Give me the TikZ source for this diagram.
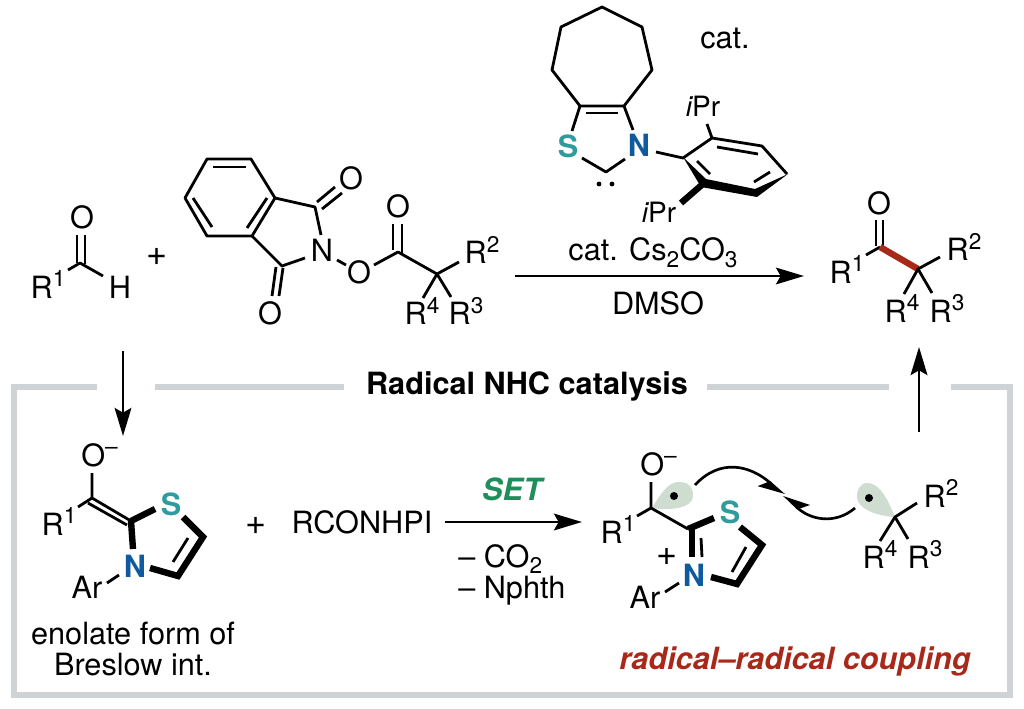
\documentclass[tikz,border=0pt]{standalone}
\usepackage{fontspec}
\setmainfont{TeX Gyre Heros}
\usepackage{tikz}
\usetikzlibrary{arrows.meta}
\definecolor{framegray}{HTML}{CFD3D6}
\definecolor{lobegreen}{HTML}{CEDDD0}
\definecolor{sulfur}{HTML}{2E9C9C}
\definecolor{nitrogen}{HTML}{0F5A9E}
\definecolor{setgreen}{HTML}{1E8F5B}
\definecolor{bondred}{HTML}{A8281A}
\newcommand{\supr}[1]{\raisebox{.36em}{\fontsize{17}{17}\selectfont #1}}
\newcommand{\subr}[1]{\smash{\raisebox{-.22em}{\fontsize{17}{17}\selectfont #1}}}
\tikzstyle{txt} = [anchor=base, inner sep=0pt, font=\fontsize{23}{27}\selectfont]
\tikzstyle{atomS} = [txt, text=sulfur, font=\fontsize{23}{27}\selectfont\bfseries]
\tikzstyle{atomN} = [txt, text=nitrogen, font=\fontsize{23}{27}\selectfont\bfseries]
\tikzstyle{plus} = [txt, font=\fontsize{27}{27}\selectfont]
\tikzstyle{bond} = [line width=2.1pt, line cap=butt, line join=round]
\tikzstyle{bold} = [line width=4.8pt, line join=miter]
\tikzstyle{redbond} = [line width=4.8pt, draw=bondred]
\tikzstyle{frame} = [line width=5pt, draw=framegray, line join=miter]
\tikzstyle{arrow} = [line width=2pt, -{Stealth[length=21pt, width=12.5pt, inset=3.5pt]}]
\tikzstyle{fishhook} = [line width=2pt, -{Stealth[length=17pt, width=16pt, inset=4pt, harpoon, swap]}]
\begin{document}
\begin{tikzpicture}[x=.75pt, y=-.75pt]

    \useasboundingbox (0, 0) rectangle (1024, 709);

    % grey frame
    \draw [frame] (97, 387) -- (14, 387) -- (14, 695) -- (1010, 695) -- (1010, 387) -- (951, 387);
    \draw [frame] (155, 387) -- (344, 387);
    \draw [frame] (707, 387) -- (889, 387);
    \node (title) [txt, font=\fontsize{23}{27}\selectfont\bfseries] at (527, 394) {Radical NHC catalysis};

    % aldehyde
    \coordinate (aldC) at (80, 263);
    \coordinate (aldOa) at (77, 235);
    \coordinate (aldCa) at (77, 263);
    \coordinate (aldOb) at (85, 235);
    \coordinate (aldCb) at (85, 264);
    \coordinate (aldRend) at (68, 270);
    \coordinate (aldHend) at (103, 276);
    \node (aldO) [txt] at (82, 229) {O};
    \node (aldR) [txt] at (48, 298) {R\supr{1}};
    \node (aldH) [txt] at (120, 298) {H};
    \draw [bond] (aldOa) -- (aldCa);
    \draw [bond] (aldOb) -- (aldCb);
    \draw [bond] (aldRend) -- (aldC) -- (aldHend);
    \node (plusA) [plus] at (157, 266) {+};

    % phthalimide ester
    \coordinate (bzA) at (207, 159);
    \coordinate (bzB) at (251, 159);
    \coordinate (bzC) at (275, 198);
    \coordinate (bzD) at (252, 236);
    \coordinate (bzE) at (207, 236);
    \coordinate (bzF) at (185, 198);
    \coordinate (dblAa) at (213, 167);
    \coordinate (dblAb) at (246, 167);
    \coordinate (dblBa) at (267, 198);
    \coordinate (dblBb) at (247, 228);
    \coordinate (dblCa) at (193, 198);
    \coordinate (dblCb) at (212, 227);
    \coordinate (imC) at (315, 207);
    \coordinate (imD) at (282, 266);
    \coordinate (imN) at (321, 235);
    \coordinate (imM) at (305, 258);
    \coordinate (oneA) at (317, 202);
    \coordinate (oneB) at (335, 187);
    \coordinate (twoA) at (322, 209);
    \coordinate (twoB) at (342, 193);
    \coordinate (thrA) at (272, 296);
    \coordinate (thrB) at (276, 267);
    \coordinate (fouA) at (279, 296);
    \coordinate (fouB) at (283, 268);
    \coordinate (noA) at (337, 260);
    \coordinate (noB) at (346, 265);
    \coordinate (oxA) at (374, 265);
    \coordinate (estC) at (398, 252);
    \coordinate (estA) at (393, 224);
    \coordinate (estB) at (393, 250);
    \coordinate (estD) at (402, 224);
    \coordinate (estE) at (402, 253);
    \coordinate (estQ) at (437, 274);
    \coordinate (estTwo) at (459, 262);
    \coordinate (estFour) at (423, 298);
    \coordinate (estThree) at (451, 297);
    \node (imO) [txt] at (351, 190) {O};
    \node (imP) [txt] at (270, 324) {O};
    \node (imNn) [txt] at (322, 262) {N};
    \node (estOa) [txt] at (359, 284) {O};
    \node (estOb) [txt] at (398, 218) {O};
    \node (estR) [txt] at (482, 264) {R\supr{2}};
    \node (estRf) [txt] at (422, 325) {R\supr{4}};
    \node (estRt) [txt] at (466, 325) {R\supr{3}};
    \draw [bond] (bzA) -- (bzB) -- (bzC) -- (bzD) -- (bzE) -- (bzF) -- cycle;
    \draw [bond] (dblAa) -- (dblAb);
    \draw [bond] (dblBa) -- (dblBb);
    \draw [bond] (dblCa) -- (dblCb);
    \draw [bond] (bzC) -- (imC) -- (imN);
    \draw [bond] (bzD) -- (imD) -- (imM);
    \draw [bond] (oneA) -- (oneB);
    \draw [bond] (twoA) -- (twoB);
    \draw [bond] (thrA) -- (thrB);
    \draw [bond] (fouA) -- (fouB);
    \draw [bond] (noA) -- (noB);
    \draw [bond] (oxA) -- (estC) -- (estQ) -- (estTwo);
    \draw [bond] (estA) -- (estB);
    \draw [bond] (estD) -- (estE);
    \draw [bond] (estFour) -- (estQ) -- (estThree);

    % catalyst
    \coordinate (hpA) at (580, 106);
    \coordinate (hpB) at (552, 70);
    \coordinate (hpC) at (561, 27);
    \coordinate (hpD) at (602, 7);
    \coordinate (hpE) at (642, 27);
    \coordinate (hpF) at (652, 70);
    \coordinate (hpG) at (624, 106);
    \coordinate (hpDa) at (586, 113);
    \coordinate (hpDb) at (618, 113);
    \coordinate (catS) at (572, 131);
    \coordinate (catN) at (633, 130);
    \coordinate (carbA) at (582, 158);
    \coordinate (carbC) at (606, 172);
    \coordinate (carbB) at (625, 159);
    \coordinate (nAr) at (656, 152);
    \coordinate (arA) at (683, 158);
    \coordinate (arB) at (712, 138);
    \coordinate (arC) at (762, 146);
    \coordinate (arD) at (787, 174);
    \coordinate (arE) at (756, 193);
    \coordinate (arF) at (704, 183);
    \coordinate (arDa) at (717, 147);
    \coordinate (arDb) at (758, 154);
    \coordinate (arDc) at (754, 182);
    \coordinate (arDd) at (770, 172);
    \coordinate (arDe) at (697, 161);
    \coordinate (arDf) at (710, 174);
    \coordinate (prTop) at (707, 124);
    \coordinate (prBot) at (681, 203);
    \node (catSs) [atomS] at (568, 158) {S};
    \node (catNn) [atomN] at (639, 157) {N};
    \node (catLbl) [txt] at (725, 49) {cat.};
    \node (iprA) [txt, font=\fontsize{21}{25}\selectfont] at (703, 117) {{\itshape i}Pr};
    \node (iprB) [txt, font=\fontsize{21}{25}\selectfont] at (659, 223) {{\itshape i}Pr};
    \draw [bond] (hpA) -- (hpB) -- (hpC) -- (hpD) -- (hpE) -- (hpF) -- (hpG) -- cycle;
    \draw [bond] (hpDa) -- (hpDb);
    \draw [bond] (hpA) -- (catS);
    \draw [bond] (hpG) -- (catN);
    \draw [bond] (carbA) -- (carbC) -- (carbB);
    \draw [bond] (nAr) -- (arA) -- (arB) -- (arC) -- (arD);
    \draw [bond] (arDa) -- (arDb);
    \draw [bond] (arDc) -- (arDd);
    \draw [bond] (arDe) -- (arDf);
    \draw [bond] (prTop) -- (arB);
    \fill (683, 157) -- (701, 187) -- (757, 197) -- (788, 174) -- (755, 189) -- (706, 179) -- cycle;
    \draw [bold] (arF) -- (prBot);
    \fill (599, 184) circle (1.8pt);
    \fill (612, 184) circle (1.8pt);

    % main reaction arrow
    \coordinate (mainA) at (515, 276);
    \coordinate (mainB) at (804, 276);
    \draw [arrow] (mainA) -- (mainB);
    \node (csLbl) [txt] at (653, 261) {cat. Cs\subr{2}CO\subr{3}};
    \node (dmso) [txt] at (658, 314) {DMSO};

    % product
    \coordinate (prodC) at (880, 247);
    \coordinate (prodOa) at (876, 220);
    \coordinate (prodCa) at (876, 246);
    \coordinate (prodOb) at (883, 220);
    \coordinate (prodCb) at (883, 247);
    \coordinate (prodRend) at (866, 255);
    \coordinate (prodQ) at (918, 269);
    \coordinate (prodTwo) at (940, 257);
    \coordinate (prodFour) at (904, 294);
    \coordinate (prodThree) at (932, 293);
    \node (prodO) [txt] at (879, 215) {O};
    \node (prodRa) [txt] at (847, 283) {R\supr{1}};
    \node (prodRb) [txt] at (964, 261) {R\supr{2}};
    \node (prodRf) [txt] at (902, 322) {R\supr{4}};
    \node (prodRt) [txt] at (947, 322) {R\supr{3}};
    \draw [bond] (prodOa) -- (prodCa);
    \draw [bond] (prodOb) -- (prodCb);
    \draw [bond] (prodRend) -- (prodC);
    \draw [redbond] (prodC) -- (prodQ);
    \draw [bond] (prodTwo) -- (prodQ);
    \draw [bond] (prodFour) -- (prodQ) -- (prodThree);

    % arrows through the frame
    \coordinate (downA) at (123, 351);
    \coordinate (downB) at (123, 436);
    \draw [arrow] (downA) -- (downB);
    \coordinate (upA) at (919, 432);
    \coordinate (upB) at (919, 347);
    \draw [arrow] (upA) -- (upB);

    % enolate
    \coordinate (enC) at (92, 498);
    \coordinate (enOb) at (92, 473);
    \coordinate (enCc) at (131, 521);
    \coordinate (enDa) at (88, 503);
    \coordinate (enDb) at (127, 525);
    \coordinate (enR) at (78, 507);
    \coordinate (enSa) at (155, 509);
    \coordinate (enSb) at (183, 517);
    \coordinate (enE) at (203, 537);
    \coordinate (enF) at (178, 576);
    \coordinate (enNb) at (150, 568);
    \coordinate (enNa) at (133, 549);
    \coordinate (enIa) at (188, 538);
    \coordinate (enIb) at (173, 562);
    \coordinate (enAa) at (107, 583);
    \coordinate (enAb) at (119, 575);
    \node (enO) [txt, anchor=base west] at (81, 466) {O\supr{–}};
    \node (enRr) [txt] at (59, 535) {R\supr{1}};
    \node (enS) [atomS] at (171, 515) {S};
    \node (enN) [atomN] at (135, 577) {N};
    \node (enAr) [txt] at (87, 598) {Ar};
    \draw [bond] (enOb) -- (enC) -- (enCc);
    \draw [bond] (enDa) -- (enDb);
    \draw [bond] (enR) -- (enC);
    \draw [bold] (enCc) -- (enSa);
    \draw [bold] (enSb) -- (enE) -- (enF) -- (enNb);
    \draw [bold] (enCc) -- (enNa);
    \draw [bond] (enIa) -- (enIb);
    \draw [bond] (enAa) -- (enAb);
    \node (enLblA) [txt] at (133, 644) {enolate form of};
    \node (enLblB) [txt] at (133, 675) {Breslow int.};

    % middle step
    \node (plusB) [plus] at (256, 534) {+};
    \node (rconhpi) [txt] at (362, 533) {RCONHPI};
    \coordinate (setA) at (445, 522);
    \coordinate (setB) at (582, 522);
    \draw [arrow] (setA) -- (setB);
    \node (setLbl) [txt, text=setgreen, font=\fontsize{23}{27}\selectfont\bfseries\itshape] at (512, 500) {SET};
    \node (lossA) [txt, anchor=base west] at (458, 567) {– CO\subr{2}};
    \node (lossB) [txt, anchor=base west] at (458, 598) {– Nphth};

    % radical pair
    \fill [lobegreen] (652, 508) .. controls (660, 495) and (668, 481) .. (680, 482) .. controls (690, 482) and (694, 490) .. (693, 497) .. controls (692, 508) and (670, 511) .. (652, 508) -- cycle;
    \fill [lobegreen] (895, 517) .. controls (888, 500) and (880, 483) .. (867, 483) .. controls (860, 483) and (856, 491) .. (857, 498) .. controls (858, 508) and (875, 516) .. (895, 517) -- cycle;
    \fill (674, 496) circle (3pt);
    \fill (869, 498) circle (3pt);
    \coordinate (rdC) at (651, 508);
    \coordinate (rdOb) at (651, 482);
    \coordinate (rdR) at (637, 516);
    \coordinate (rdCc) at (688, 529);
    \coordinate (rdSa) at (714, 518);
    \coordinate (rdSb) at (740, 527);
    \coordinate (rdE) at (762, 545);
    \coordinate (rdF) at (737, 584);
    \coordinate (rdNb) at (711, 577);
    \coordinate (rdNa) at (692, 528);
    \coordinate (rdNc) at (692, 557);
    \coordinate (rdTa) at (701, 538);
    \coordinate (rdTb) at (702, 557);
    \coordinate (rdIa) at (746, 547);
    \coordinate (rdIb) at (732, 572);
    \coordinate (rdAa) at (665, 592);
    \coordinate (rdAb) at (679, 583);
    \node (rdO) [txt, anchor=base west] at (640, 475) {O\supr{–}};
    \node (rdRr) [txt] at (618, 543) {R\supr{1}};
    \node (rdS) [atomS] at (730, 523) {S};
    \node (rdN) [atomN] at (694, 586) {N};
    \node (rdPlus) [plus] at (667, 565) {+};
    \node (rdAr) [txt] at (645, 608) {Ar};
    \draw [bond] (rdOb) -- (rdC) -- (rdCc);
    \draw [bond] (rdR) -- (rdC);
    \draw [bold] (rdCc) -- (rdSa);
    \draw [bold] (rdSb) -- (rdE) -- (rdF) -- (rdNb);
    \draw [bold] (rdNa) -- (rdNc);
    \draw [bond] (rdTa) -- (rdTb);
    \draw [bond] (rdIa) -- (rdIb);
    \draw [bond] (rdAa) -- (rdAb);

    \coordinate (alkQ) at (895, 517);
    \coordinate (alkTwo) at (917, 503);
    \coordinate (alkFour) at (880, 541);
    \coordinate (alkThree) at (908, 539);
    \node (alkRb) [txt] at (941, 507) {R\supr{2}};
    \node (alkRf) [txt] at (880, 568) {R\supr{4}};
    \node (alkRt) [txt] at (925, 568) {R\supr{3}};
    \draw [bond] (alkTwo) -- (alkQ);
    \draw [bond] (alkFour) -- (alkQ) -- (alkThree);

    \coordinate (hookA) at (695, 485);
    \coordinate (hookB) at (855, 508);
    \coordinate (hookC) at (784, 495);
    \draw [fishhook] (hookA) .. controls (720, 458) and (750, 465) .. (hookC);
    \draw [fishhook] (hookB) .. controls (835, 525) and (810, 520) .. (hookC);

    \node (couple) [txt, text=bondred, font=\fontsize{23}{27}\selectfont\bfseries\itshape] at (795, 669) {radical–radical coupling};

\end{tikzpicture}
\end{document}
